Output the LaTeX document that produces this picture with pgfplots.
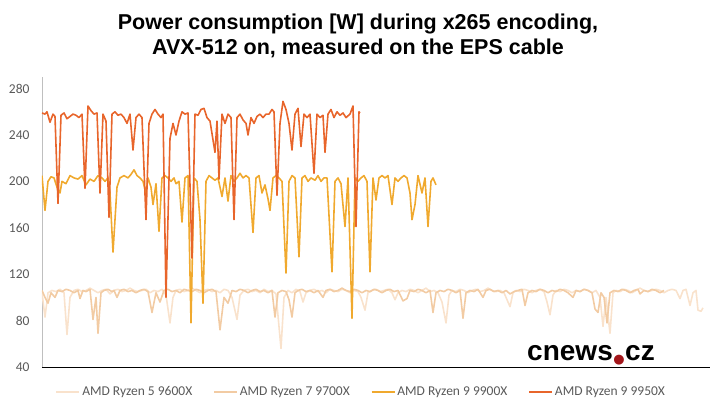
\documentclass[border=0pt]{standalone}
\usepackage{pgfplots}
\pgfplotsset{compat=1.18}
\usepackage{fontspec}
\setmainfont{Carlito}
\newfontfamily\titlefont{Liberation Sans}
\newfontfamily\dejavu{DejaVu Sans}
\definecolor{c9600}{HTML}{F9E2CC}
\definecolor{c9700}{HTML}{F2CBA3}
\definecolor{c9900}{HTML}{F0A92E}
\definecolor{c9950}{HTML}{E8652B}
\definecolor{axisgrey}{HTML}{BFBFBF}
\definecolor{tickgrey}{HTML}{595959}
\definecolor{cnred}{HTML}{A3161B}

\begin{document}
\begin{tikzpicture}
\useasboundingbox (-42bp,-49bp) rectangle (678bp,367bp);
\begin{axis}[
    scale only axis, width=668bp, height=290bp,
    at={(0,0)}, anchor=south west,
    xmin=0, xmax=668, ymin=40, ymax=290,
    axis x line*=none, axis y line*=left,
    xtick=\empty,
    ytick={40,80,...,280},
    major tick length=0,
    y axis line style={draw=axisgrey, line width=0.8pt},
    yticklabel style={font=\fontsize{13.5bp}{14bp}\selectfont, text=tickgrey, xshift=-9bp},
    /pgf/number format/assume math mode=true,
    every axis plot/.append style={line width=1.6pt, line join=round, no markers},
    legend style={draw=none, fill=none, at={(0.478,-0.086)}, anchor=center,
        font=\fontsize{13.5bp}{14bp}\selectfont, text=tickgrey,
        /tikz/every even column/.append style={column sep=19bp}},
    legend columns=4,
    legend image code/.code={\draw[#1] (0bp,0bp) -- (23bp,0bp);},
]
% AMD Ryzen 5 9600X
\addplot[c9600] coordinates {
(0,104)(3,83)(6,104)(10,106)(14,105)(18,107)(22,104)(25,68)(28,100)(32,106)(36,107)(40,105)(44,106)(48,108)(52,106)(56,104)(60,106)(64,107)(68,103)(72,106)(76,107)(80,105)(84,106)(88,108)(92,106)(96,105)(100,106)(104,107)(108,104)(112,106)(116,105)(120,107)(124,102)(128,78)(131,100)(134,106)(138,107)(142,105)(146,106)(150,108)(154,106)(158,104)(162,106)(166,107)(170,105)(174,106)(178,104)(182,107)(186,106)(190,100)(195,81)(198,102)(202,106)(206,107)(210,105)(214,106)(218,104)(222,107)(226,105)(230,106)(234,103)(239,56)(242,100)(246,106)(250,104)(254,107)(258,105)(261,96)(264,104)(268,106)(272,107)(276,105)(280,106)(284,104)(288,107)(292,106)(296,105)(300,107)(304,106)(308,104)(312,106)(316,105)(319,100)(323,89)(326,104)(330,106)(334,107)(338,105)(342,106)(346,107)(350,104)(353,98)(356,104)(360,106)(364,105)(368,107)(372,106)(376,104)(380,106)(384,108)(388,105)(392,106)(396,104)(400,96)(404,78)(407,102)(410,106)(414,105)(418,107)(422,106)(426,104)(430,106)(434,107)(438,105)(442,106)(446,108)(450,106)(454,105)(458,106)(462,104)(465,98)(468,92)(471,104)(474,106)(478,105)(482,107)(486,106)(490,104)(494,106)(498,107)(502,105)(505,96)(508,85)(511,102)(514,106)(518,105)(522,107)(526,106)(530,104)(534,106)(538,105)(542,107)(546,106)(550,104)(554,106)(558,100)(561,75)(564,100)(568,69)(571,104)(574,106)(578,105)(582,107)(586,106)(590,104)(594,106)(598,108)(602,106)(606,105)(610,106)(614,107)(618,106)(622,104)(626,106)(630,107)(634,106)(638,99)(641,106)(644,107)(648,93)(651,104)(654,106)(656,89)(659,88)(661,91)
};
\addlegendentry{AMD Ryzen 5 9600X}
% AMD Ryzen 7 9700X
\addplot[c9700] coordinates {
(0,106)(3,100)(6,95)(9,104)(13,100)(16,106)(20,105)(24,107)(28,106)(32,104)(36,106)(38,99)(41,106)(44,105)(48,107)(51,81)(54,100)(56,69)(59,104)(62,106)(66,107)(70,105)(72,106)(75,100)(78,106)(82,107)(86,105)(90,106)(94,104)(98,106)(102,107)(106,105)(110,87)(114,104)(118,96)(122,106)(126,107)(130,105)(134,106)(138,104)(142,107)(146,106)(150,105)(154,107)(158,106)(162,104)(166,106)(170,107)(174,105)(178,72)(182,100)(186,95)(190,106)(194,105)(198,107)(202,106)(206,104)(210,106)(214,107)(218,105)(222,106)(226,104)(230,106)(233,83)(236,104)(240,106)(244,105)(247,98)(250,83)(253,104)(256,106)(260,107)(264,105)(268,106)(272,104)(276,106)(281,100)(284,106)(288,107)(292,105)(296,106)(300,108)(304,106)(308,105)(312,107)(316,106)(320,104)(324,106)(328,105)(332,107)(336,106)(340,104)(344,106)(348,107)(352,105)(356,106)(361,97)(365,99)(368,106)(372,105)(376,107)(380,106)(384,104)(388,106)(391,87)(394,104)(398,106)(402,105)(406,107)(410,106)(414,104)(418,106)(421,82)(424,104)(428,106)(432,105)(436,107)(441,100)(444,106)(448,107)(452,105)(456,106)(460,104)(464,106)(468,103)(472,105)(476,106)(480,107)(483,93)(486,104)(490,106)(494,105)(498,107)(502,106)(506,104)(510,106)(514,105)(518,107)(522,106)(526,104)(531,100)(534,106)(538,105)(542,107)(546,106)(550,104)(553,90)(556,87)(559,104)(562,100)(565,78)(568,104)(572,106)(576,105)(580,107)(584,106)(588,104)(592,106)(596,107)(598,103)(602,106)(606,105)(610,107)(614,106)(618,104)(622,106)
};
\addlegendentry{AMD Ryzen 7 9700X}
% AMD Ryzen 9 9900X
\addplot[c9900] coordinates {
(0,205)(3,175)(6,200)(9,204)(12,203)(15,195)(18,190)(20,200)(24,198)(28,205)(32,203)(36,202)(40,205)(44,197)(48,202)(52,200)(56,205)(60,203)(63,200)(66,203)(68,190)(71,139)(75,195)(78,203)(82,205)(86,203)(89,206)(92,210)(95,205)(98,203)(101,200)(104,190)(106,203)(109,195)(111,180)(114,198)(117,157)(120,203)(123,205)(126,203)(129,200)(132,203)(134,198)(137,200)(140,165)(143,203)(146,205)(149,78)(152,203)(155,200)(158,167)(161,95)(164,200)(167,205)(170,203)(173,201)(176,203)(180,187)(183,203)(186,183)(189,205)(192,200)(195,203)(198,207)(201,203)(204,205)(207,203)(211,156)(214,203)(217,205)(220,190)(223,197)(226,185)(228,175)(231,203)(234,205)(237,203)(240,200)(244,121)(247,200)(250,205)(253,203)(257,135)(260,203)(263,205)(266,200)(269,203)(273,201)(276,205)(279,200)(282,203)(285,203)(290,122)(293,200)(296,203)(299,198)(303,161)(306,203)(310,82)(313,203)(316,200)(319,203)(322,205)(325,200)(328,122)(331,203)(334,184)(337,203)(340,205)(343,203)(346,205)(350,180)(353,203)(356,200)(359,203)(362,205)(365,203)(368,190)(370,167)(373,180)(376,205)(380,190)(383,203)(386,161)(389,200)(391,203)(394,197)
};
\addlegendentry{AMD Ryzen 9 9900X}
% AMD Ryzen 9 9950X
\addplot[c9950] coordinates {
(0,259)(3,258)(5,260)(8,251)(11,258)(13,256)(16,181)(19,257)(22,259)(25,254)(28,256)(31,258)(34,257)(37,255)(40,258)(43,194)(46,265)(49,261)(52,258)(55,259)(58,190)(61,258)(64,252)(67,169)(70,258)(73,260)(76,257)(79,258)(82,255)(85,250)(88,258)(91,227)(94,255)(97,258)(100,255)(104,167)(107,250)(110,258)(113,262)(116,258)(119,255)(121,258)(124,100)(128,237)(131,250)(134,240)(137,252)(140,260)(143,258)(146,259)(150,134)(153,258)(156,257)(159,262)(162,263)(165,255)(168,252)(173,225)(175,252)(177,202)(180,258)(183,250)(186,258)(189,255)(192,167)(195,255)(198,258)(201,253)(204,250)(206,240)(209,255)(212,250)(215,256)(218,258)(221,255)(224,258)(227,258)(230,262)(232,260)(235,188)(238,250)(241,269)(244,262)(247,250)(250,227)(253,258)(256,263)(259,230)(262,258)(265,255)(268,258)(272,207)(275,258)(278,255)(281,257)(283,225)(286,258)(289,262)(292,255)(295,260)(298,257)(301,259)(304,255)(308,258)(311,265)(314,161)(317,260)(318,259)
};
\addlegendentry{AMD Ryzen 9 9950X}
\end{axis}
\node[font=\titlefont\bfseries\fontsize{21.5bp}{25bp}\selectfont, align=center]
    at (316bp,331bp) {Power consumption [W] during x265 encoding,\\AVX-512 on, measured on the EPS cable};
\node[font=\titlefont\bfseries\fontsize{28bp}{28bp}\selectfont, anchor=base, inner sep=0pt]
    at (549bp,7bp) {cnews\hspace{0.5bp}\raisebox{-3bp}{\textcolor{cnred}{\fontsize{13bp}{13bp}\dejavu ●}}\hspace{0.5bp}cz};
\end{tikzpicture}
\end{document}
